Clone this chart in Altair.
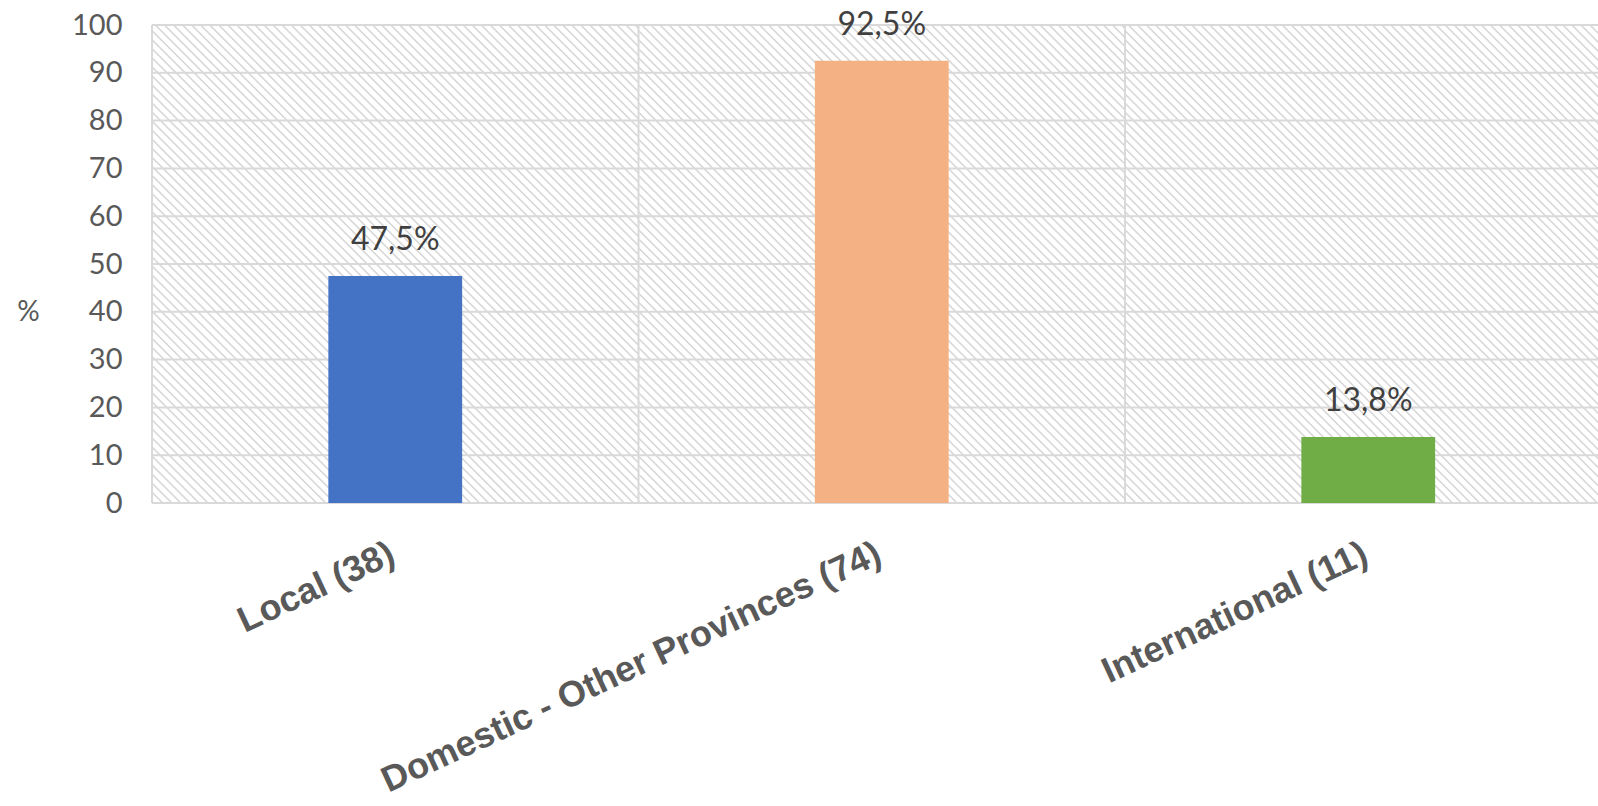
import math
import altair as alt
import pandas as pd

categories = ["Local (38)", "Domestic - Other Provinces (74)", "International (11)"]
values = [47.5, 92.5, 13.8]
labels = ["47,5%", "92,5%", "13,8%"]
colors = ["#4472C4", "#F4B183", "#70AD47"]
yticks = [0, 10, 20, 30, 40, 50, 60, 70, 80, 90, 100]

df = pd.DataFrame({"cat": categories, "val": values, "lab": labels, "col": colors})
df_ticks = pd.DataFrame({"tick": yticks})

W = 1446
H = 478
band = 486.5
pin = 0.725


def hatch_fill(w, h, period=6.4, line="#dadada", bg="#ffffff"):
    """Diagonal (\\) hatch texture built as a linear gradient over a w x h box."""
    r = h / w
    a = (1 + r) / (1 + r * r)
    total = (w + h) / math.sqrt(2)
    n = int(total / period) + 1
    stops = []
    for k in range(n):
        o = k * period
        for off, col in ((o, bg), (o + 0.7, line), (o + 1.7, line), (o + 2.4, bg)):
            t = off / total
            if t <= 1:
                stops.append({"offset": round(t, 6), "color": col})
    return {"gradient": "linear", "x1": 0, "y1": 1, "x2": round(a, 6), "y2": round(1 - r * a, 6),
            "stops": stops}


xscale = alt.Scale(domain=categories, range=[0, band * 3], paddingInner=pin, paddingOuter=pin / 2)
gscale = alt.Scale(domain=categories, range=[0, band * 3], paddingInner=0, paddingOuter=0)
yscale = alt.Scale(domain=[0, 100])

xaxis = alt.Axis(title=None, labelAngle=335, labelFont="Liberation Sans",
                 labelFontSize=36, labelFontWeight="bold", labelColor="#595959",
                 labelPadding=33, labelOffset=-10, ticks=False, domain=False,
                 grid=False, labelAlign="right", labelBaseline="top",
                 labelLimit=1000)

yaxis = alt.Axis(title="%", titleAngle=0, titleX=-124, titleY=287, titleAlign="center",
                 titleBaseline="middle", titleFont="Lato", titleFontSize=28,
                 titleFontWeight="normal", titleColor="#595959",
                 values=yticks, labelFont="Lato", labelFontSize=29,
                 labelColor="#595959", labelPadding=30, ticks=False, domain=False,
                 grid=False)

base = alt.Chart(df)

# hatched plot background, one rect per category step
hatch = base.mark_rect(fill=hatch_fill(band, H), strokeWidth=0).encode(
    x=alt.X("cat:N", scale=gscale, sort=categories, axis=None),
    y=alt.Y(datum=100, type="quantitative", scale=yscale, axis=yaxis),
    y2=alt.Y2(datum=0),
)

# horizontal gridlines at the y tick values
hgrid = alt.Chart(df_ticks).mark_rule(color="#d9d9d9", strokeWidth=2).encode(
    y=alt.Y("tick:Q", scale=yscale, axis=yaxis),
)

# category boundary gridlines (start of each category step)
vgrid = base.mark_rule(color="#d9d9d9", strokeWidth=2).encode(
    x=alt.X("cat:N", scale=gscale, sort=categories, axis=None, bandPosition=0)
)

bars = base.mark_bar().encode(
    x=alt.X("cat:N", scale=xscale, sort=categories, axis=xaxis),
    y=alt.Y("val:Q", scale=yscale, axis=yaxis),
    color=alt.Color("col:N", scale=None),
)

text = base.mark_text(font="Lato", fontSize=32, color="#404040", baseline="alphabetic", dy=-26).encode(
    x=alt.X("cat:N", scale=xscale, sort=categories, axis=xaxis),
    y=alt.Y("val:Q", scale=yscale, axis=yaxis),
    text="lab:N",
)

chart = alt.layer(alt.layer(hatch, hgrid, vgrid), alt.layer(bars, text)).resolve_scale(x="independent").properties(
    width=W, height=H,
    autosize=alt.AutoSizeParams(type="none"),
    padding={"left": 152, "top": 25, "right": 0, "bottom": 303},
).configure_view(fill="#ffffff", stroke=None)

chart.save("out.html", embed_options={"renderer": "svg", "actions": False})
